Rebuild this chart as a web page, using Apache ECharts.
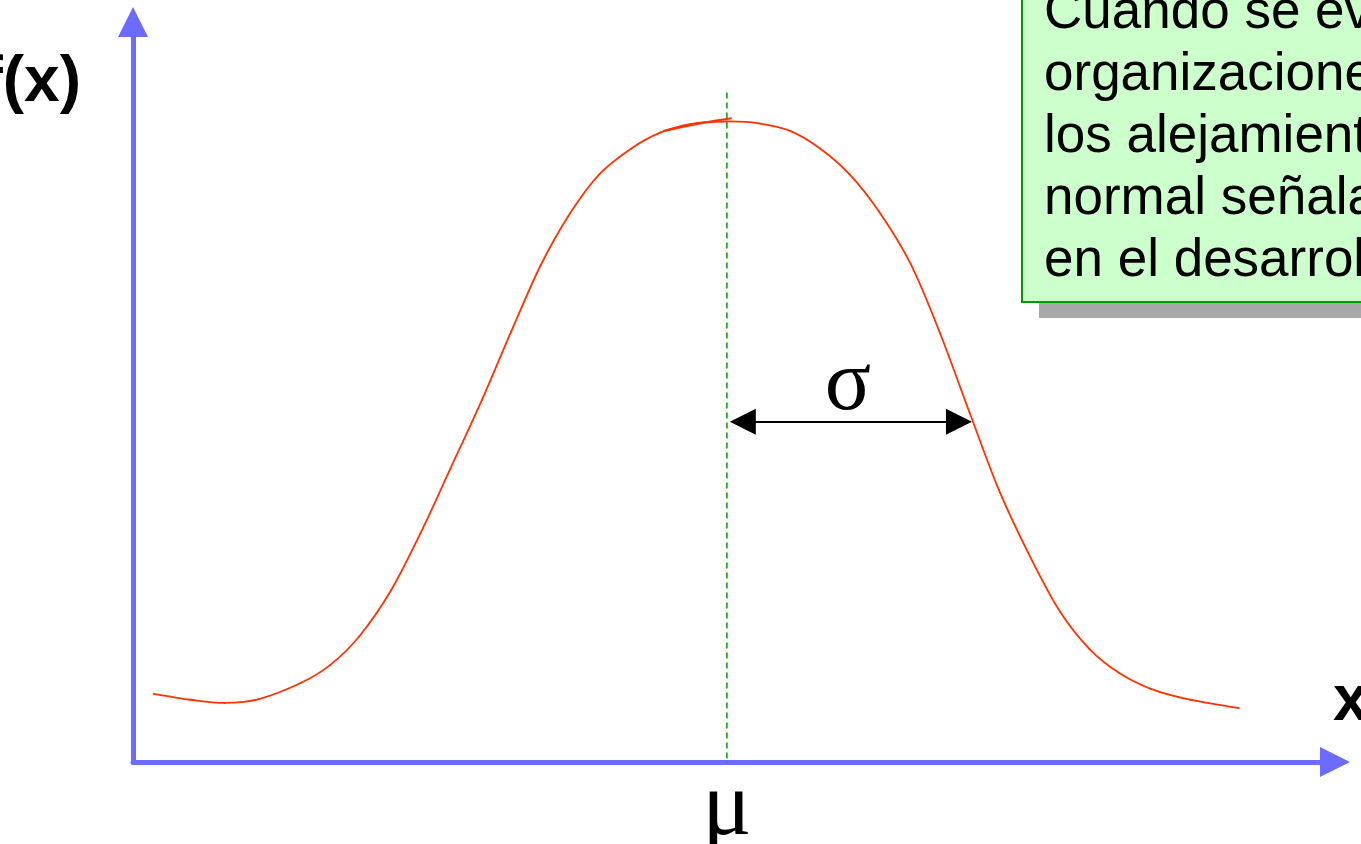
<!DOCTYPE html>
<html>
<head>
<meta charset="utf-8">
<script src="https://cdn.jsdelivr.net/npm/echarts@6/dist/echarts.min.js"></script>
<style>
  html, body { margin: 0; padding: 0; background: #fff; }
  #main { width: 1361px; height: 844px; }
</style>
</head>
<body>
<div id="main"></div>
<script>
// x en unidades de sigma (mu = 0), y relativo al pico de la campana
let curveX = [-2.34, -2.19, -2.05, -1.91, -1.74, -1.62, -1.50, -1.37, -1.25, -1.13, -1.00, -0.88, -0.76, -0.64, -0.52, -0.39, -0.27, -0.15, 0.00, 0.13, 0.26, 0.38, 0.50, 0.62, 0.75, 0.87, 0.99, 1.11, 1.24, 1.36, 1.48, 1.60, 1.73, 1.89, 2.09];
let curveY = [0.106, 0.097, 0.092, 0.098, 0.123, 0.151, 0.196, 0.268, 0.357, 0.456, 0.564, 0.671, 0.774, 0.855, 0.916, 0.956, 0.981, 0.994, 0.998, 0.995, 0.983, 0.956, 0.916, 0.858, 0.776, 0.668, 0.545, 0.424, 0.318, 0.234, 0.176, 0.139, 0.114, 0.097, 0.084];
// trazo extra cerca del pico
let strokeX = [-0.26, -0.11, 0.02];
let strokeY = [0.983, 0.995, 1.003];
// linea de la media y flecha de sigma
let muLineY = [-0.01, 1.047];
let sigmaArrow = [0.065, 0.947];
let sigmaLevel = 0.53;
let xTickValues = [0];
let xTickLabels = ['μ'];
let boxLines = ['Cuando se evalúan', 'organizaciones,', 'los alejamientos', 'normal señalan', 'en el desarrollo'];

let chart = echarts.init(document.getElementById('main'));

// cada punto dibuja el tramo hasta el siguiente (Catmull-Rom) con las coordenadas del eje
function renderCurve(params, api) {
  let n = curveX.length;
  let i = params.dataIndexInside;
  if (i >= n - 1) return;
  let pt = k => {
    k = Math.max(0, Math.min(n - 1, k));
    return api.coord([api.value(0, k), api.value(1, k)]);
  };
  let p0 = pt(i - 1), p1 = pt(i), p2 = pt(i + 1), p3 = pt(i + 2);
  return {
    type: 'bezierCurve',
    shape: {
      x1: p1[0], y1: p1[1],
      cpx1: p1[0] + (p2[0] - p0[0]) / 6, cpy1: p1[1] + (p2[1] - p0[1]) / 6,
      cpx2: p2[0] - (p3[0] - p1[0]) / 6, cpy2: p2[1] - (p3[1] - p1[1]) / 6,
      x2: p2[0], y2: p2[1]
    },
    style: { stroke: '#ff3300', lineWidth: 1.8, fill: null, lineCap: 'round' }
  };
}

let option = {
  animation: false,
  grid: { left: 133, right: 26, top: 22, bottom: 82, containLabel: false, outerBoundsMode: 'none' },
  xAxis: {
    type: 'value',
    min: -2.424,
    max: 2.482,
    axisLine: {
      onZero: false,
      lineStyle: { color: '#6b6bff', width: 5 },
      symbol: ['none', 'triangle'],
      symbolSize: [30, 30]
    },
    axisTick: { show: false },
    splitLine: { show: false },
    axisLabel: {
      customValues: xTickValues,
      formatter: function (v) {
        let i = xTickValues.indexOf(v);
        return i >= 0 ? xTickLabels[i] : '';
      },
      color: '#000',
      fontFamily: 'Liberation Serif',
      fontSize: 92,
      margin: 2
    }
  },
  yAxis: {
    type: 'value',
    min: 0,
    max: 1.153,
    axisLine: {
      show: true,
      onZero: false,
      lineStyle: { color: '#6b6bff', width: 5 },
      symbol: ['none', 'triangle'],
      symbolSize: [30, 30]
    },
    axisTick: { show: false },
    splitLine: { show: false },
    axisLabel: { show: false }
  },
  series: [
    {
      name: 'curva',
      type: 'custom',
      renderItem: renderCurve,
      data: curveX.map((x, i) => [x, curveY[i]])
    },
    {
      name: 'trazo',
      type: 'line',
      smooth: true,
      showSymbol: false,
      data: strokeX.map((x, i) => [x, strokeY[i]]),
      lineStyle: { color: '#ff3300', width: 2.2 }
    },
    {
      name: 'media',
      type: 'line',
      showSymbol: false,
      data: muLineY.map(y => [0, y]),
      lineStyle: { color: '#009900', width: 1.5, type: [6, 4] }
    },
    {
      name: 'sigma',
      type: 'line',
      data: [],
      markLine: {
        silent: true,
        symbol: ['triangle', 'triangle'],
        symbolSize: [26, 26],
        label: { show: false },
        lineStyle: { color: '#000', width: 2, type: 'solid' },
        data: [[
          { coord: [sigmaArrow[0], sigmaLevel] },
          { coord: [sigmaArrow[1], sigmaLevel] }
        ]]
      }
    }
  ],
  graphic: [
    { type: 'rect', shape: { x: 1039, y: -20, width: 400, height: 338 }, style: { fill: '#a8a8a8' }, z: 10 },
    { type: 'rect', shape: { x: 1022, y: -20, width: 400, height: 322 }, style: { fill: '#ccffcc', stroke: '#009900', lineWidth: 2 }, z: 11 }
  ].concat(boxLines.map((t, i) => ({
    type: 'text', x: 1044, y: 13 + i * 62, z: 12,
    style: { text: t, fill: '#000', font: '53px "Liberation Sans", Arial, sans-serif', verticalAlign: 'middle' }
  }))).concat([
    { type: 'text', x: 81, y: 83, style: { text: 'f(x)', fill: '#000', font: 'bold 64px "Liberation Sans", Arial, sans-serif', align: 'right', verticalAlign: 'middle' } },
    { type: 'text', x: 1333, y: 702, style: { text: 'x', fill: '#000', font: 'bold 64px "Liberation Sans", Arial, sans-serif', verticalAlign: 'middle' } },
    { type: 'text', x: 848, y: 386, style: { text: 'σ', fill: '#000', font: '86px "Liberation Serif", serif', align: 'center', verticalAlign: 'middle' } }
  ])
};

chart.setOption(option);
</script>
</body>
</html>
